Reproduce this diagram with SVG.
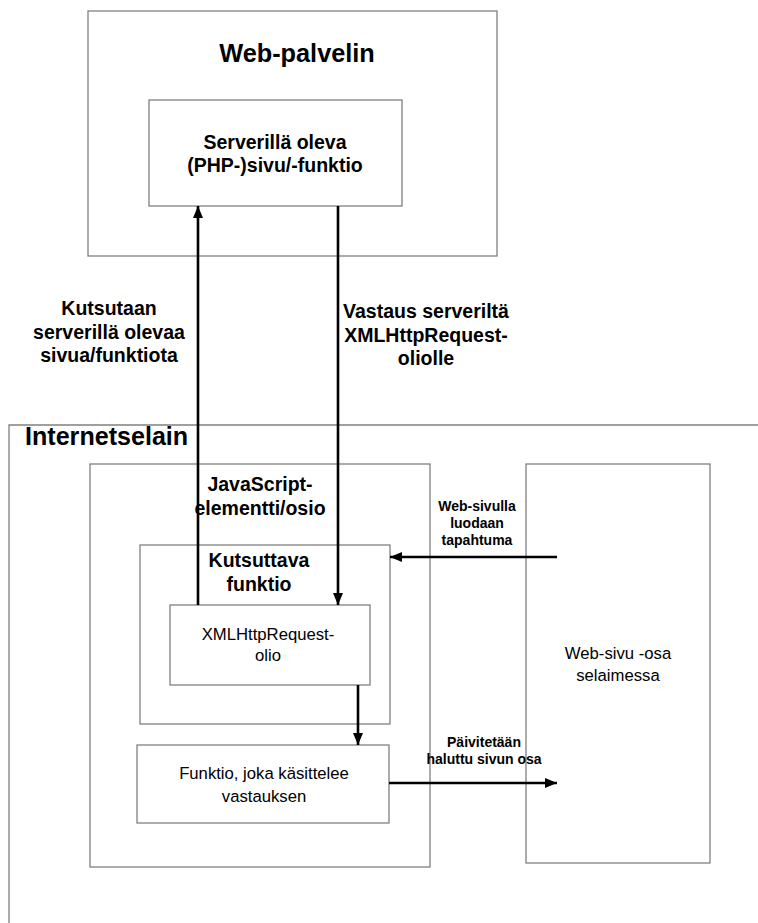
<svg xmlns="http://www.w3.org/2000/svg" width="758" height="923" viewBox="0 0 758 923">
<defs>
<marker id="ah" markerWidth="12" markerHeight="10" refX="12" refY="5" orient="auto" markerUnits="userSpaceOnUse">
<path d="M0,0 L12,5 L0,10 Z" fill="#000"/>
</marker>
<style>
.box{fill:#fff;stroke:#808080;stroke-width:1.3}
.t{font-family:"Liberation Sans",Arial,sans-serif;fill:#000;text-anchor:middle}
.b{font-weight:bold}
.n{font-size:16.7px}
.m{font-size:19.5px;font-weight:bold}
.s{font-size:14px;font-weight:bold}
.con{stroke:#000;stroke-width:2.6;fill:none;marker-end:url(#ah)}
</style>
</defs>
<rect width="758" height="923" fill="#fff"/>
<g id="web-palvelin">
<rect class="box" x="88" y="11" width="409" height="245"/>
<text class="t b" x="297" y="62" font-size="25.3">Web-palvelin</text>
</g>
<g id="server-sivu">
<rect class="box" x="149" y="100" width="253" height="106"/>
<text class="t m" x="275" y="149">Serverillä oleva</text>
<text class="t m" x="275" y="172">(PHP-)sivu/-funktio</text>
</g>
<g id="internetselain">
<path class="box" d="M9,923 L9,425 L758,425" fill="none"/>
<text class="t b" x="25" y="445" font-size="25.1" style="text-anchor:start">Internetselain</text>
</g>
<g id="javascript">
<rect class="box" x="90" y="464" width="340" height="403"/>
<text class="t m" x="260" y="491">JavaScript-</text>
<text class="t m" x="260" y="515">elementti/osio</text>
</g>
<g id="kutsuttava">
<rect class="box" x="140" y="545" width="250" height="179"/>
<text class="t m" x="259" y="567">Kutsuttava</text>
<text class="t m" x="259" y="591">funktio</text>
</g>
<g id="xmlhttp">
<rect class="box" x="170" y="605" width="200" height="80"/>
<text class="t n" x="268" y="640">XMLHttpRequest-</text>
<text class="t n" x="268" y="661">olio</text>
</g>
<g id="funktio">
<rect class="box" x="137" y="745" width="252" height="78"/>
<text class="t n" x="264" y="779">Funktio, joka käsittelee</text>
<text class="t n" x="264" y="802">vastauksen</text>
</g>
<g id="web-sivu">
<rect class="box" x="526" y="464" width="184" height="399"/>
<text class="t n" x="618" y="659">Web-sivu -osa</text>
<text class="t n" x="618" y="681">selaimessa</text>
</g>
<g id="connectors">
<line class="con" x1="198" y1="605" x2="198" y2="206"/>
<line class="con" x1="338" y1="206" x2="338" y2="605"/>
<line class="con" x1="557" y1="557" x2="390" y2="557"/>
<line class="con" x1="358" y1="685" x2="358" y2="745"/>
<line class="con" x1="389" y1="783" x2="557" y2="783"/>
</g>
<g id="labels">
<text class="t m" x="109" y="315">Kutsutaan</text>
<text class="t m" x="109" y="339">serverillä olevaa</text>
<text class="t m" x="109" y="362">sivua/funktiota</text>
<text class="t m" x="426" y="318">Vastaus serveriltä</text>
<text class="t m" x="426" y="342">XMLHttpRequest-</text>
<text class="t m" x="426" y="365">oliolle</text>
<text class="t s" x="477" y="511">Web-sivulla</text>
<text class="t s" x="477" y="528">luodaan</text>
<text class="t s" x="477" y="545">tapahtuma</text>
<text class="t s" x="484" y="747">Päivitetään</text>
<text class="t s" x="484" y="764">haluttu sivun osa</text>
</g>
</svg>
